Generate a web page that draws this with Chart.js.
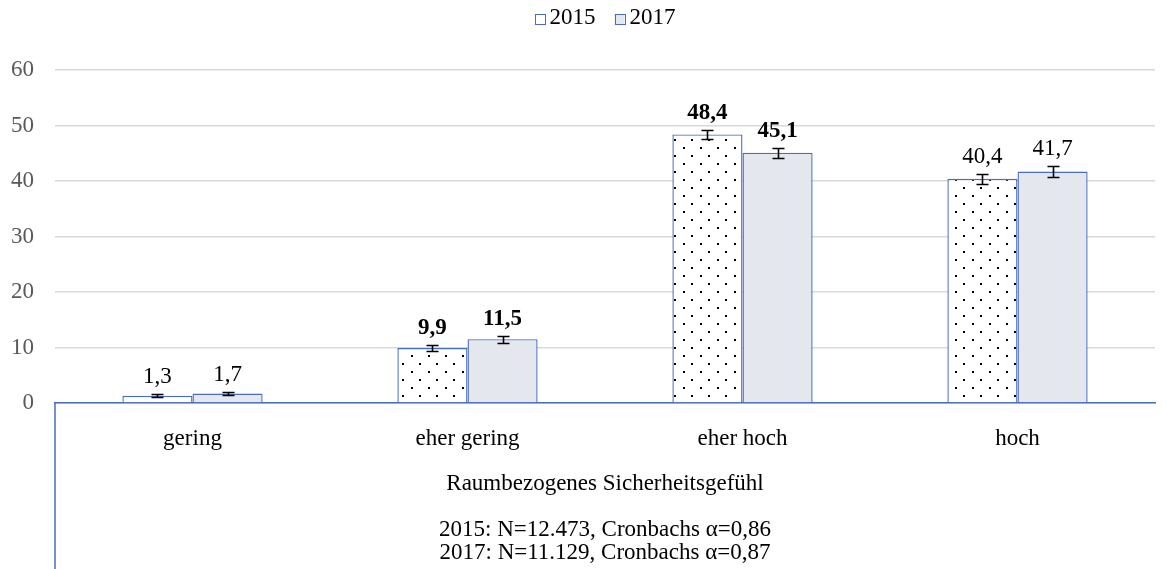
<!DOCTYPE html>
<html>
<head>
<meta charset="utf-8">
<script src="https://cdn.jsdelivr.net/npm/chart.js@4.4.1/dist/chart.umd.min.js"></script>
<style>
    html, body { margin: 0; padding: 0; background: #fff; }
    #wrap { width: 1167px; height: 569px; position: relative; }
</style>
</head>
<body>
<div id="wrap"><canvas id="myChart"></canvas></div>
<script>
let categories = ["gering", "eher gering", "eher hoch", "hoch"];
let values2015 = [1.3, 9.9, 48.4, 40.4];
let values2017 = [1.7, 11.5, 45.1, 41.7];
let errors2015 = [0.3, 0.6, 0.8, 0.9];
let errors2017 = [0.3, 0.6, 0.9, 1.0];
let boldLabels = [false, true, true, false];
let yTicks = [0, 10, 20, 30, 40, 50, 60];
let axisTitle = [
    "Raumbezogenes Sicherheitsgefühl",
    "",
    "2015: N=12.473, Cronbachs α=0,86",
    "2017: N=11.129, Cronbachs α=0,87",
];

const FONT = "'Liberation Serif', 'Times New Roman', serif";
const BLUE = "#4a6cc0";

// dotted fill for 2015
let makeDots = () => {
    var c = document.createElement("canvas");
    c.width = 17;
    c.height = 16;
    var g = c.getContext("2d");
    g.fillStyle = "#ffffff";
    g.fillRect(0, 0, 17, 16);
    g.fillStyle = "#000000";
    g.fillRect(3, 3, 2, 2);
    g.fillRect(11, 11, 2, 2);
    return g.createPattern(c, "repeat");
};

let errorBars = {
    id: "errorBars",
    afterDatasetsDraw(chart) {
        const ctx = chart.ctx;
        const y = chart.scales.y;
        ctx.save();
        chart.data.datasets.forEach((ds, i) => {
            const meta = chart.getDatasetMeta(i);
            meta.data.forEach((bar, j) => {
                const v = ds.data[j];
                const e = ds.errors[j];
                const top = Math.round(y.getPixelForValue(v + e)) + 0.5;
                const bot = Math.round(y.getPixelForValue(v - e)) + 0.5;
                const x = Math.round(bar.x) + 0.5;
                ctx.strokeStyle = "#000";
                ctx.lineWidth = 1.6;
                ctx.beginPath();
                ctx.moveTo(x, top);
                ctx.lineTo(x, bot);
                ctx.moveTo(x - 6, top);
                ctx.lineTo(x + 6, top);
                ctx.moveTo(x - 6, bot);
                ctx.lineTo(x + 6, bot);
                ctx.stroke();

                // value label
                ctx.fillStyle = "#000";
                ctx.textAlign = "center";
                ctx.textBaseline = "alphabetic";
                ctx.font = (boldLabels[j] ? "bold " : "") + "23px " + FONT;
                ctx.fillText(v.toFixed(1).replace(".", ","), bar.x, top - 12);
            });
        });
        ctx.restore();
    },
};

// legend + the axis line running down past the labels
let extras = {
    id: "extras",
    afterDraw(chart) {
        const ctx = chart.ctx;
        const a = chart.chartArea;
        ctx.save();
        ctx.strokeStyle = BLUE;
        ctx.lineWidth = 1.5;
        ctx.beginPath();
        ctx.moveTo(a.left, a.bottom);
        ctx.lineTo(a.left, chart.height);
        ctx.stroke();

        ctx.font = "23px " + FONT;
        ctx.textBaseline = "middle";
        ctx.textAlign = "left";
        const box = 10, gap = 5, space = 19;
        const items = chart.data.datasets.map((ds) => ({
            ds: ds,
            w: box + gap + ctx.measureText(ds.label).width,
        }));
        const total = items.reduce((s, it) => s + it.w, 0) + space * (items.length - 1);
        let x = (a.left + a.right) / 2 - total / 2;
        const cy = 19;
        items.forEach((it) => {
            ctx.fillStyle = it.ds.backgroundColor;
            ctx.fillRect(x, cy - box / 2, box, box);
            ctx.strokeStyle = it.ds.borderColor;
            ctx.lineWidth = 1;
            ctx.strokeRect(Math.round(x) + 0.5, cy - box / 2 + 0.5, box, box);
            ctx.fillStyle = "#000";
            ctx.fillText(it.ds.label, x + box + gap, cy - 1);
            x += it.w + space;
        });
        ctx.restore();
    },
};

let drawChart = () => {
    var ctx = document.getElementById("myChart").getContext("2d");
    var dots = makeDots();
    return new Chart(ctx, {
        type: "bar",
        data: {
            labels: categories,
            datasets: [
                {
                    label: "2015",
                    data: values2015,
                    errors: errors2015,
                    backgroundColor: dots,
                    borderColor: BLUE,
                    borderWidth: 1.4,
                },
                {
                    label: "2017",
                    data: values2017,
                    errors: errors2017,
                    backgroundColor: "#e4e7ed",
                    borderColor: BLUE,
                    borderWidth: 1.4,
                },
            ],
        },
        options: {
            responsive: true,
            maintainAspectRatio: false,
            animation: false,
            layout: { padding: { top: 70, right: 12, left: 0, bottom: 0 } },
            datasets: {
                bar: { categoryPercentage: 0.51, barPercentage: 1.0 },
            },
            plugins: {
                tooltip: { enabled: false },
                legend: { display: false },
            },
            scales: {
                x: {
                    grid: { display: false, drawTicks: false },
                    border: { display: true, color: BLUE, width: 1.5 },
                    ticks: {
                        color: "#000",
                        font: { family: FONT, size: 23 },
                        padding: 22,
                    },
                    title: {
                        display: true,
                        text: axisTitle,
                        color: "#000",
                        font: { family: FONT, size: 23, lineHeight: 1.0 },
                        padding: { top: 20, bottom: 5 },
                    },
                    afterFit: (scale) => {
                        scale.height = 166;
                    },
                },
                y: {
                    min: 0,
                    max: 60,
                    afterBuildTicks: (scale) => {
                        scale.ticks = yTicks.map((v) => ({ value: v }));
                    },
                    grid: { color: "#d9d9d9", lineWidth: 1.5, drawTicks: false },
                    border: { display: false },
                    ticks: {
                        color: "#595959",
                        font: { family: FONT, size: 23 },
                        padding: 21,
                    },
                    afterFit: (scale) => {
                        scale.width = 55;
                    },
                },
            },
        },
        plugins: [errorBars, extras],
    });
};
drawChart();
</script>
</body>
</html>
